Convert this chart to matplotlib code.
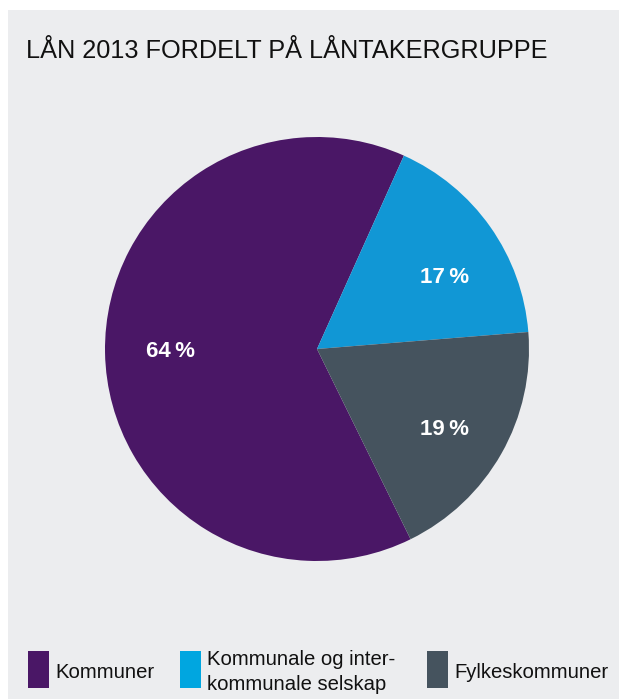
import matplotlib
matplotlib.use("Agg")
import matplotlib.pyplot as plt
from matplotlib.patches import Rectangle

# Data
categories = ["Kommuner", "Kommunale og inter-\nkommunale selskap", "Fylkeskommuner"]
shares = [64, 17, 19]
colors = ["#4A1766", "#1197D5", "#45535E"]
legend_colors = ["#4A1766", "#00A6E0", "#45535E"]
title = "LÅN 2013 FORDELT PÅ LÅNTAKERGRUPPE"

W, H = 619, 699
fig = plt.figure(figsize=(W / 100, H / 100), dpi=100, facecolor="white")

# Grey panel behind everything
fig.patches.append(Rectangle((8 / W, 0), 1, (H - 10) / H, transform=fig.transFigure,
                             facecolor="#ECEDEF", edgecolor="none", zorder=-5))

fig.text(26 / W, 1 - 51 / H, title, family="Liberation Sans", fontsize=18.2,
         color="#111111", va="center", ha="left")

# Pie
cx, cy, r = 317, H - 349, 212
ax = fig.add_axes([(cx - r) / W, (cy - r) / H, 2 * r / W, 2 * r / H])
ax.set_zorder(1)
ax.set_facecolor("none")
wedges, texts, autotexts = ax.pie(
    shares, colors=colors, startangle=-63.8, counterclock=False,
    autopct=lambda p: f"{p:.0f}\u2009%", pctdistance=0.69,
    wedgeprops=dict(linewidth=0), radius=1,
    textprops=dict(color="white", fontsize=16, fontweight="bold", family="Liberation Sans"))

# Percentage labels sit slightly off the wedge bisectors
label_pos = [(-0.69, -0.014), (0.60, 0.336), (0.60, -0.38)]
for t, pos in zip(autotexts, label_pos):
    t.set_position(pos)

ax.set_xlim(-1, 1)
ax.set_ylim(-1, 1)
ax.axis("off")

# Legend
legend_x = [28, 180, 427]
for x, lab, c in zip(legend_x, categories, legend_colors):
    fig.patches.append(Rectangle((x / W, 1 - 688 / H), 21 / W, 37 / H,
                                 transform=fig.transFigure, facecolor=c,
                                 edgecolor="none", zorder=2))
    fig.text((x + 27) / W, 1 - 672 / H, lab, family="Liberation Sans", fontsize=14.6,
             color="#111111", va="center", ha="left", linespacing=1.4)

fig.savefig("out.png", dpi=100, facecolor="white")
